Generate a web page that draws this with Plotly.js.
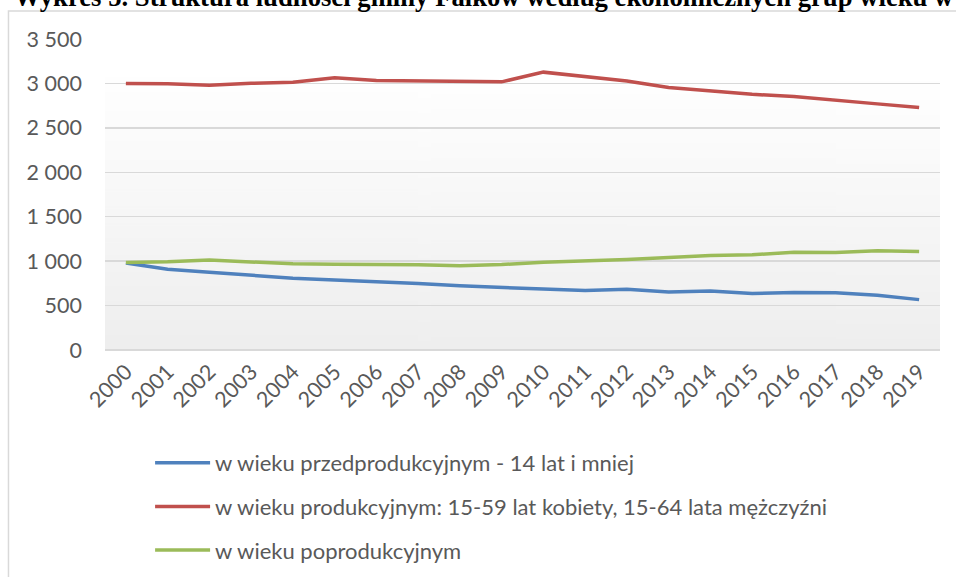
<!DOCTYPE html>
<html>
<head>
<meta charset="utf-8">
<script src="https://cdn.plot.ly/plotly-3.0.1.min.js"></script>
<style>html,body{margin:0;padding:0;background:#fff;}#chart{width:956px;height:577px;}</style>
</head>
<body>
<div id="chart"></div>
<script>
const years = ["2000","2001","2002","2003","2004","2005","2006","2007","2008","2009","2010","2011","2012","2013","2014","2015","2016","2017","2018","2019"];
const przedprodukcyjny = [980, 910, 876, 842, 808, 789, 770, 748, 722, 705, 684, 669, 684, 654, 665, 635, 646, 643, 617, 567];
const produkcyjny = [3000, 2995, 2980, 3002, 3013, 3063, 3033, 3030, 3028, 3018, 3127, 3080, 3028, 2954, 2912, 2878, 2852, 2807, 2770, 2728];
const poprodukcyjny = [984, 992, 1012, 992, 970, 966, 966, 958, 947, 962, 988, 1000, 1018, 1040, 1063, 1071, 1101, 1097, 1116, 1108];
const seriesNames = [
  "w wieku przedprodukcyjnym - 14 lat i mniej",
  "w wieku produkcyjnym: 15-59 lat kobiety, 15-64 lata mężczyźni",
  "w wieku poprodukcyjnym"
];
const titleText = "Wykres 5. Struktura ludności gminy Fałków według ekonomicznych grup wieku w";

const colors = ["#4f81bd", "#c0504d", "#9bbb59"];
const seriesValues = [przedprodukcyjny, produkcyjny, poprodukcyjny];

// gradient background for plot area
const cv = document.createElement('canvas');
cv.width = 4; cv.height = 256;
const ctx = cv.getContext('2d');
const g = ctx.createLinearGradient(0, 0, 0, 256);
g.addColorStop(0, '#ffffff');
g.addColorStop(0.12, '#ffffff');
g.addColorStop(1, '#eeeeee');
ctx.fillStyle = g;
ctx.fillRect(0, 0, 4, 256);
const gradURL = cv.toDataURL('image/png');

const traces = seriesValues.map((vals, i) => ({
  type: 'scatter',
  mode: 'lines',
  x: years,
  y: vals,
  name: seriesNames[i],
  legendgroup: 'g' + i,
  line: {color: colors[i], width: 3.5},
  hoverinfo: 'skip'
}));

const font = "Lato, 'Open Sans', sans-serif";
const layout = {
  width: 956, height: 577,
  margin: {l: 105, r: 16, t: 39, b: 227, autoexpand: false},
  paper_bgcolor: '#ffffff',
  plot_bgcolor: 'rgba(0,0,0,0)',
  separators: ', ',
  showlegend: true,
  font: {family: font, color: '#595959', size: 20},
  xaxis: {
    type: 'category',
    range: [-0.5, 19.5],
    tickangle: -45,
    showgrid: false,
    zeroline: false,
    showline: false,
    ticks: '',
    ticklabelstandoff: 4,
    tickfont: {family: font, size: 21.5, color: '#595959'},
    automargin: false,
    fixedrange: true
  },
  yaxis: {
    range: [0, 3500],
    dtick: 500,
    tick0: 0,
    tickformat: ',d',
    showgrid: true,
    gridcolor: '#d9d9d9',
    gridwidth: 1.5,
    zeroline: true,
    zerolinecolor: '#d9d9d9',
    zerolinewidth: 1.5,
    showline: false,
    ticks: '',
    ticklabelstandoff: 22,
    tickfont: {family: font, size: 21.5, color: '#595959'},
    automargin: false,
    fixedrange: true
  },
  legend: {
    orientation: 'v',
    x: 0.054, xanchor: 'left',
    yref: 'container',
    y: 1 - 442 / 577, yanchor: 'top',
    font: {family: font, size: 22, color: '#595959'},
    itemwidth: 55,
    tracegroupgap: 12,
    bgcolor: 'rgba(0,0,0,0)'
  },
  images: [{
    source: gradURL,
    xref: 'paper', yref: 'paper',
    x: 0, y: 1, sizex: 1, sizey: 1,
    xanchor: 'left', yanchor: 'top',
    sizing: 'stretch', layer: 'below'
  }],
  shapes: [{
    type: 'rect', xref: 'paper', yref: 'paper',
    x0: -0.1156, x1: 1.2, y0: -0.9, y1: 1.09,
    line: {color: '#d9d9d9', width: 1.5},
    fillcolor: 'rgba(0,0,0,0)',
    layer: 'below'
  }],
  annotations: [{
    text: '<b>' + titleText + '</b>',
    xref: 'paper', yref: 'paper',
    x: -0.1114, xanchor: 'left',
    y: 1.136, yanchor: 'middle',
    showarrow: false,
    font: {family: "'Liberation Serif', 'Times New Roman', serif", size: 26.7, color: '#000000'}
  }]
};

Plotly.newPlot('chart', traces, layout, {staticPlot: true, displayModeBar: false});
</script>
</body>
</html>
